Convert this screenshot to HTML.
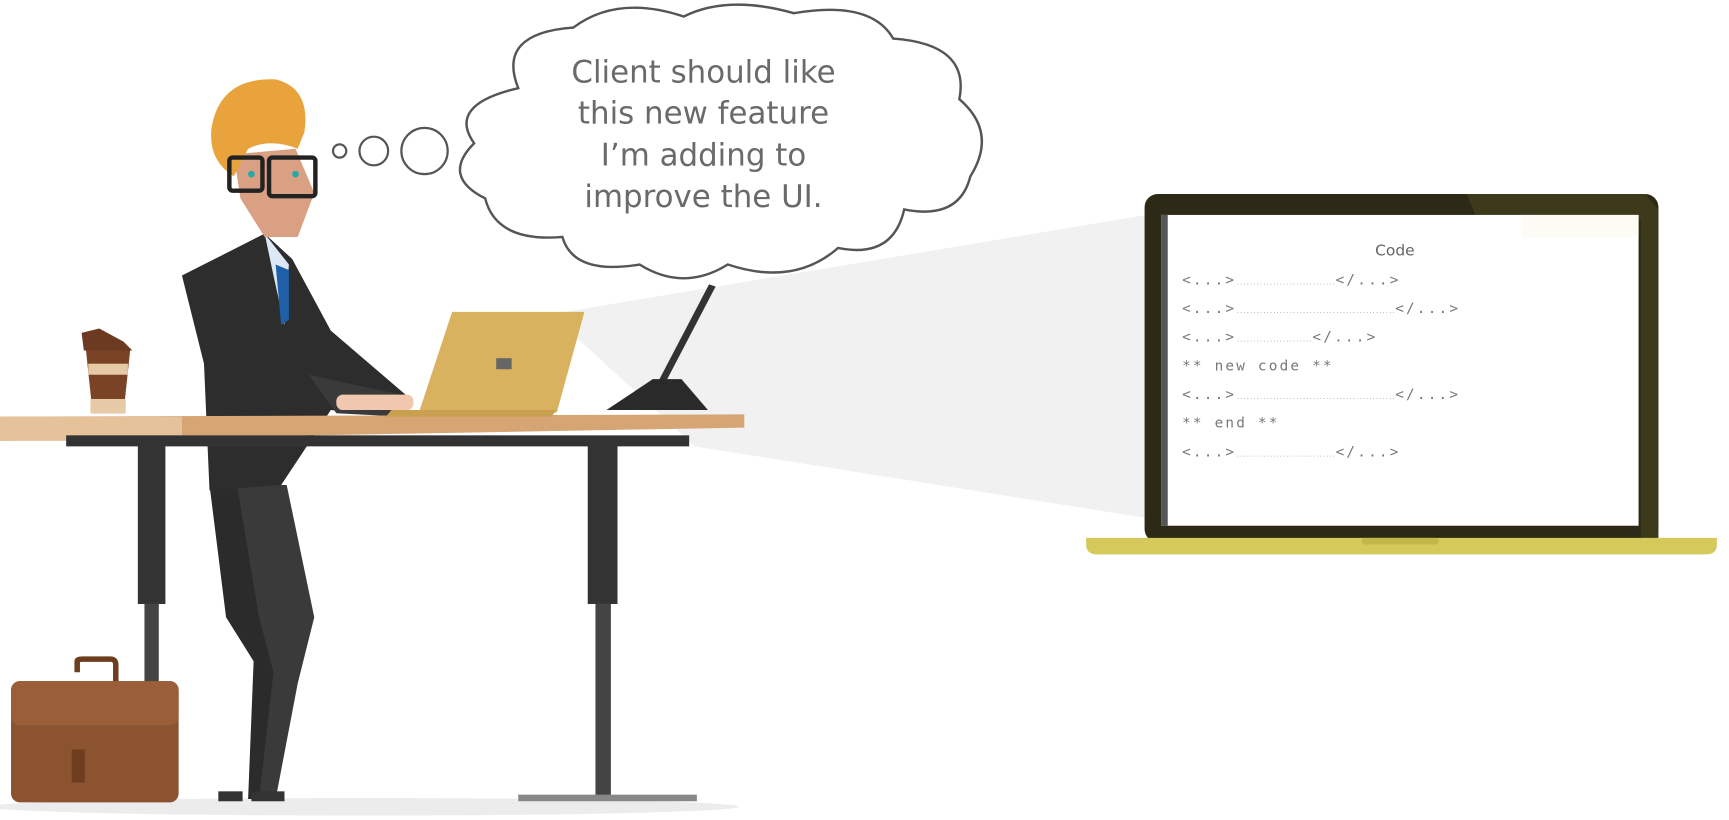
<!DOCTYPE html>
<html><head><meta charset="utf-8"><style>
html,body{margin:0;padding:0;background:#fff;}
svg{display:block}
</style></head><body>
<svg width="1729" height="820" viewBox="0 0 1568 744" preserveAspectRatio="none" xmlns="http://www.w3.org/2000/svg">
<rect width="1568" height="744" fill="#fff"/>
<ellipse cx="330" cy="732" rx="340" ry="8" fill="#ececec"/>
<polygon points="500,285 1040,195 1040,470 630,405" fill="#f1f1f1"/>
<!-- big laptop -->
<rect x="1038" y="176" width="466" height="316" rx="12" fill="#2c2a16"/>
<polygon points="1330,176 1492,176 1504,190 1504,490 1488,490 1488,200 1340,200" fill="#3d3a1c"/>
<rect x="1053" y="195" width="433" height="282" fill="#fff"/>
<rect x="1053" y="195" width="6" height="282" fill="#555"/>
<rect x="1380" y="195" width="106" height="20" fill="#fdfcf4"/>
<path d="M985,488 H1557 V494 Q1557,503 1547,503 H995 Q985,503 985,494 Z" fill="#d4c95a"/>
<rect x="1235" y="488" width="70" height="6" rx="3" fill="#c2b748"/>
<g font-family="'DejaVu Sans Mono','Liberation Mono',monospace" font-size="13" fill="#777" letter-spacing="2">
<text x="1265" y="232" text-anchor="middle" font-family="'DejaVu Sans','Liberation Sans',sans-serif" font-size="14" fill="#666" letter-spacing="0">Code</text>
<text x="1072" y="258">&lt;...&gt;<tspan font-size="5" fill="#888" letter-spacing="0">..............................</tspan>&lt;/...&gt;</text>
<text x="1072" y="284">&lt;...&gt;<tspan font-size="5" fill="#888" letter-spacing="0">................................................</tspan>&lt;/...&gt;</text>
<text x="1072" y="310">&lt;...&gt;<tspan font-size="5" fill="#888" letter-spacing="0">.......................</tspan>&lt;/...&gt;</text>
<text x="1072" y="336">** new code **</text>
<text x="1072" y="362">&lt;...&gt;<tspan font-size="5" fill="#888" letter-spacing="0">................................................</tspan>&lt;/...&gt;</text>
<text x="1072" y="388">** end **</text>
<text x="1072" y="414">&lt;...&gt;<tspan font-size="5" fill="#888" letter-spacing="0">..............................</tspan>&lt;/...&gt;</text>
</g>
<!-- cloud -->
<path d="M470,80 Q450,30 520,25 Q560,-5 620,15 Q660,-5 720,12 Q790,0 810,35 Q880,40 870,90 Q905,120 880,160 Q870,200 820,190 Q810,235 760,225 Q720,260 660,240 Q620,265 580,240 Q520,250 510,215 Q450,220 440,180 Q400,160 430,130 Q405,95 470,80 Z" fill="#fff" stroke="#555" stroke-width="2.2"/>
<circle cx="308" cy="137" r="6" fill="#fff" stroke="#555" stroke-width="2"/>
<circle cx="339" cy="137" r="13" fill="#fff" stroke="#555" stroke-width="2"/>
<circle cx="385" cy="137" r="21" fill="#fff" stroke="#555" stroke-width="2"/>
<g font-family="'Comic Sans MS','DejaVu Sans','Liberation Sans',sans-serif" font-size="28" fill="#6a6a6a" text-anchor="middle">
<text x="638" y="75">Client should like</text>
<text x="638" y="112">this new feature</text>
<text x="638" y="150">I’m adding to</text>
<text x="638" y="188">improve the UI.</text>
</g>
<polygon points="643,258 649,260 603,348 597,346" fill="#333"/>
<polygon points="550,372 642,372 618,344 592,344" fill="#2a2a2a"/>
<rect x="125" y="402" width="25" height="146" fill="#333"/>
<rect x="131" y="548" width="13" height="177" fill="#444"/>
<rect x="533" y="402" width="27" height="146" fill="#333"/>
<rect x="540" y="548" width="14" height="177" fill="#444"/>
<rect x="470" y="721" width="162" height="6" fill="#888"/>
<path d="M70,610 V600 Q70,598 75,598 H100 Q105,598 105,603 V620" fill="none" stroke="#6e3d1e" stroke-width="5"/>
<rect x="10" y="618" width="152" height="110" rx="8" fill="#8b5330"/>
<rect x="10" y="618" width="152" height="40" rx="8" fill="#9a5f38"/>
<rect x="65" y="680" width="12" height="30" fill="#6e3d1e"/>
<polygon points="190,440 252,440 270,560 260,600 240,725 225,725 230,600 205,560" fill="#2b2b2b"/>
<polygon points="215,440 260,440 285,560 270,620 250,725 235,725 248,610 235,560" fill="#3a3a3a"/>
<rect x="198" y="718" width="22" height="9" fill="#333"/>
<rect x="228" y="718" width="30" height="9" fill="#333"/>
<polygon points="165,250 240,212 265,235 300,300 370,360 360,378 300,372 255,440 190,445 185,330" fill="#2d2d2d"/>
<polygon points="240,212 262,240 258,295 248,250" fill="#dce9f5"/>
<polygon points="250,240 262,245 262,290 255,295" fill="#1f5fa8"/>
<polygon points="280,340 372,360 365,378 305,375" fill="#3a3a3a"/>
<rect x="305" y="358" width="70" height="14" rx="6" fill="#f0c8b0"/>
<polygon points="212,140 268,135 285,175 270,215 240,215 218,180" fill="#d9a083"/>
<path d="M192,115 Q200,70 250,72 Q282,80 276,120 L270,135 Q245,125 225,135 L212,160 Q188,145 192,115 Z" fill="#e8a33d"/>
<rect x="208" y="143" width="30" height="30" rx="3" fill="none" stroke="#222" stroke-width="4"/>
<rect x="244" y="143" width="42" height="35" rx="3" fill="none" stroke="#222" stroke-width="4"/>
<circle cx="228" cy="158" r="3" fill="#2aa"/><circle cx="268" cy="158" r="3" fill="#2aa"/>
<polygon points="0,378 675,376 675,388 0,400" fill="#d6a574"/>
<rect x="0" y="378" width="165" height="22" fill="#e6c29a"/>
<rect x="60" y="395" width="565" height="10" fill="#333"/>
<polygon points="380,374 410,283 530,283 505,374" fill="#d8b25e"/>
<polygon points="355,372 505,372 500,378 350,378" fill="#c9a050"/>
<rect x="450" y="325" width="14" height="10" fill="#666"/>
<polygon points="78,318 118,318 112,375 84,375" fill="#7a4326"/>
<rect x="80" y="330" width="36" height="10" fill="#e6c9a5"/>
<rect x="82" y="362" width="32" height="13" fill="#e6c9a5"/>
<polygon points="74,302 90,298 112,310 120,318 76,318" fill="#6b3a20"/>
</svg>
</body></html>
